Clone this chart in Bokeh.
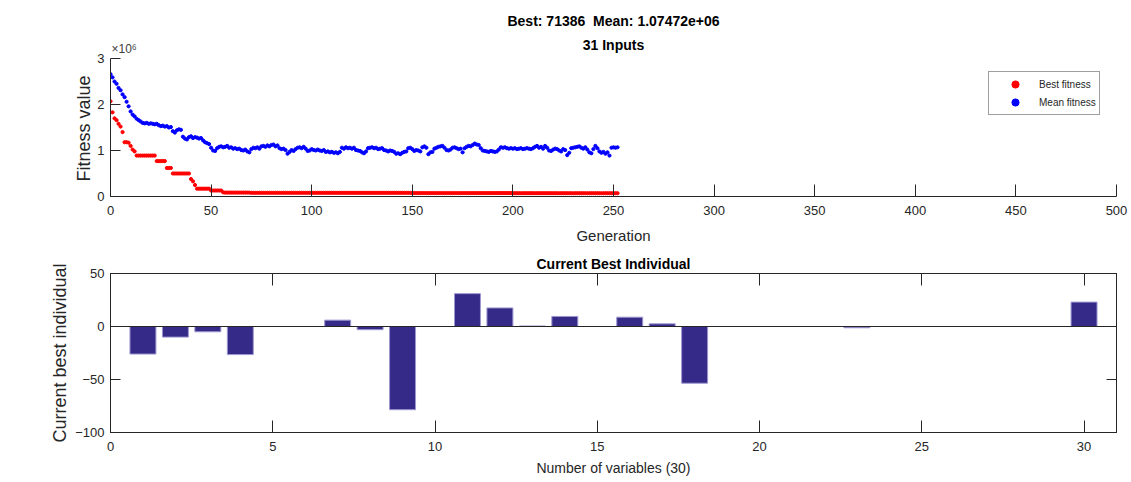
from bokeh.plotting import figure
from bokeh.layouts import column
from bokeh.models import Range1d, FixedTicker, LinearAxis, Span, Label, Title
from bokeh.embed import file_html
from bokeh.resources import INLINE

# ---------------- data ----------------
generation = list(range(0, 253))

# Mean fitness per generation (x 10^6)
mean_fitness = [
    2.66, 2.59, 2.50, 2.45, 2.36, 2.31, 2.22, 2.16, 2.06, 1.96,
    1.85, 1.78, 1.74, 1.69, 1.66, 1.63, 1.60, 1.59, 1.60, 1.58,
    1.59, 1.58, 1.57, 1.58, 1.55, 1.53, 1.54, 1.52, 1.53, 1.50,
    1.51, 1.42, 1.39, 1.44, 1.46, 1.45, 1.30, 1.26, 1.24, 1.29,
    1.31, 1.27, 1.29, 1.28, 1.26, 1.27, 1.22, 1.18, 1.16, 1.14,
    1.06, 1.00, 0.99, 1.05, 1.08, 1.09, 1.07, 1.08, 1.10, 1.06,
    1.07, 1.04, 1.05, 1.03, 1.04, 1.01, 1.00, 1.02, 0.98, 0.96,
    1.03, 1.06, 1.05, 1.07, 1.04, 1.09, 1.10, 1.08, 1.11, 1.09,
    1.12, 1.13, 1.09, 1.11, 1.05, 1.03, 1.04, 1.01, 0.93, 0.97,
    1.01, 0.99, 1.03, 1.06, 1.07, 1.05, 1.08, 1.04, 0.99, 1.00,
    1.03, 1.01, 1.00, 1.02, 1.00, 0.99, 1.01, 0.97, 0.98, 0.96,
    0.97, 0.95, 0.96, 0.94, 0.97, 1.06, 1.04, 1.07, 1.05, 1.06,
    1.04, 1.06, 1.01, 1.00, 0.99, 0.96, 0.94, 0.98, 1.05, 1.06,
    1.07, 1.05, 1.06, 1.03, 1.04, 1.05, 1.01, 1.00, 0.98, 1.00,
    0.99, 0.97, 0.93, 0.94, 0.92, 0.95, 0.97, 0.98, 1.05, 1.06,
    1.03, 0.99, 1.01, 1.00, 0.98, 1.07, 1.09, 1.06, 0.92, 0.96,
    0.97, 1.04, 1.06, 1.08, 1.09, 1.10, 1.06, 1.01, 1.00, 1.02,
    1.06, 1.07, 1.05, 1.03, 1.04, 0.96, 1.05, 1.08, 1.10, 1.09,
    1.12, 1.15, 1.13, 1.12, 1.05, 1.00, 0.99, 0.98, 0.97, 0.99,
    0.98, 0.97, 0.98, 1.02, 1.07, 1.06, 1.07, 1.05, 1.04, 1.05,
    1.04, 1.05, 1.03, 1.04, 1.05, 1.03, 1.04, 1.05, 1.04, 1.03,
    1.05, 1.08, 1.10, 1.06, 1.08, 1.04, 1.10, 1.06, 1.00, 0.99,
    1.02, 1.04, 1.03, 1.00, 0.98, 1.03, 1.01, 0.90, 0.95, 1.05,
    1.06, 1.07, 1.08, 1.09, 1.06, 1.04, 1.07, 1.02, 0.96, 0.94,
    1.03, 1.10, 1.05, 0.98, 0.95, 0.97, 0.93, 0.96, 0.89, 1.06,
    1.07, 1.06, 1.07,
]

# Best fitness per generation (x 10^6)
best_fitness = [
    2.07, 1.83, 1.70, 1.66, 1.58, 1.52, 1.40, 1.18, 1.18, 1.17,
    1.10, 1.02, 0.98, 0.89, 0.89, 0.89, 0.89, 0.89, 0.89, 0.89,
    0.89, 0.89, 0.89, 0.77, 0.77, 0.77, 0.77, 0.77, 0.62, 0.62,
    0.62, 0.50, 0.50, 0.50, 0.50, 0.50, 0.50, 0.50, 0.50, 0.50,
    0.38, 0.33, 0.25, 0.17, 0.17, 0.17, 0.17, 0.17, 0.17, 0.17,
    0.13, 0.13, 0.13, 0.13, 0.13, 0.13, 0.09, 0.085, 0.085, 0.085,
    0.085, 0.085, 0.085, 0.085, 0.085, 0.085, 0.085, 0.085, 0.085, 0.085,
    0.08, 0.08, 0.08, 0.08, 0.08, 0.08, 0.08, 0.08, 0.08, 0.08,
    0.08, 0.08, 0.08, 0.08, 0.08, 0.08, 0.08, 0.08, 0.08, 0.08,
    0.08, 0.08, 0.08, 0.08, 0.08, 0.08, 0.08, 0.08, 0.08, 0.08,
    0.08, 0.08, 0.08, 0.08, 0.08, 0.08, 0.08, 0.08, 0.08, 0.08,
    0.08, 0.08, 0.08, 0.08, 0.08, 0.08, 0.08, 0.08, 0.08, 0.08,
    0.08, 0.08, 0.08, 0.08, 0.08, 0.08, 0.08, 0.08, 0.08, 0.08,
    0.08, 0.08, 0.08, 0.08, 0.08, 0.08, 0.08, 0.08, 0.08, 0.08,
    0.08, 0.08, 0.08, 0.08, 0.08, 0.08, 0.08, 0.08, 0.08, 0.08,
    0.075, 0.075, 0.075, 0.075, 0.075, 0.075, 0.075, 0.075, 0.075, 0.075,
    0.075, 0.075, 0.075, 0.075, 0.075, 0.075, 0.075, 0.075, 0.075, 0.075,
    0.075, 0.075, 0.075, 0.075, 0.075, 0.075, 0.075, 0.075, 0.075, 0.075,
    0.075, 0.075, 0.075, 0.075, 0.075, 0.075, 0.075, 0.075, 0.075, 0.075,
    0.075, 0.075, 0.075, 0.075, 0.075, 0.075, 0.075, 0.075, 0.075, 0.075,
    0.0714, 0.0714, 0.0714, 0.0714, 0.0714, 0.0714, 0.0714, 0.0714, 0.0714, 0.0714,
    0.0714, 0.0714, 0.0714, 0.0714, 0.0714, 0.0714, 0.0714, 0.0714, 0.0714, 0.0714,
    0.0714, 0.0714, 0.0714, 0.0714, 0.0714, 0.0714, 0.0714, 0.0714, 0.0714, 0.0714,
    0.0714, 0.0714, 0.0714, 0.0714, 0.0714, 0.0714, 0.0714, 0.0714, 0.0714, 0.0714,
    0.0714, 0.0714, 0.0714, 0.0714, 0.0714, 0.0714, 0.0714, 0.0714, 0.0714, 0.0714,
    0.0714, 0.0714, 0.0714,
]

top_x_ticks = [0, 50, 100, 150, 200, 250, 300, 350, 400, 450, 500]
top_y_ticks = [0, 1, 2, 3]

variables = list(range(1, 31))
best_individual = [
    -26, -10, -5, -26.5, 0, 0, 6, -3, -78.5, 0,
    31, 17.5, 0.5, 9.5, 0, 8.8, 2.5, -53.5, 0, 0,
    0, 0, -1.2, 0, 0, 0, 0, 0, 0, 23,
]
bot_x_ticks = [0, 5, 10, 15, 20, 25, 30]
bot_y_ticks = [-100, -50, 0, 50]

title_main = "Best: 71386\u00a0 Mean: 1.07472e+06"
title_sub = "31 Inputs"
title_bottom = "Current Best Individual"
exponent_text = "\u00d710\u2076"
# trailing no-break spaces keep the rotated label centred on the 0..3 part of the axis
top_y_label = "Fitness value" + "\u00a0" * 10

# ---------------- style ----------------
FONT = "Liberation Sans"
AX = "#262626"


def style_axis(ax, tick_in, label_size="13px"):
    ax.axis_line_color = AX
    ax.major_tick_line_color = AX
    ax.major_tick_in = tick_in
    ax.major_tick_out = 0
    ax.minor_tick_line_color = None
    ax.major_label_text_font = FONT
    ax.major_label_text_font_size = label_size
    ax.major_label_text_color = AX
    ax.axis_label_text_font = FONT
    ax.axis_label_text_font_style = "normal"
    ax.axis_label_text_color = AX


def frame_label(x, y, text, y_offset, size, bold=True, align="center", baseline="middle",
                color="#000000", x_offset=0):
    return Label(x=x, y=y, text=text, text_font=FONT, text_font_size=size,
                 text_font_style="bold" if bold else "normal", text_align=align,
                 text_baseline=baseline, y_offset=y_offset, x_offset=x_offset,
                 text_color=color)


# ---------------- top chart ----------------
# the frame reaches up near the top of the figure so the titles and the exponent sit
# inside it; the y axis line itself stops at 3
top = figure(width=1131, height=250, x_range=Range1d(0, 500), y_range=Range1d(0, 4.0435),
             title=None, output_backend="svg", toolbar_location=None,
             min_border_left=110, min_border_right=15, min_border_top=10, min_border_bottom=54)
top.outline_line_color = None
top.xgrid.visible = False
top.ygrid.visible = False
top.background_fill_color = "white"
top.border_fill_color = "white"

top.scatter(generation, best_fitness, marker="circle", size=3.2, color="#ff0000",
            legend_label="Best fitness")
top.scatter(generation, mean_fitness, marker="circle", size=3.2, color="#0000ff",
            legend_label="Mean fitness")

top.xaxis.ticker = FixedTicker(ticks=top_x_ticks)
top.yaxis.ticker = FixedTicker(ticks=top_y_ticks)
top.yaxis.bounds = (0, 3)
style_axis(top.xaxis[0], 12)
style_axis(top.yaxis[0], 10)
top.xaxis.axis_label = "Generation"
top.xaxis.axis_label_text_font_size = "15px"
top.xaxis.major_label_standoff = 9
top.xaxis.axis_label_standoff = 9
top.yaxis.axis_label = top_y_label
top.yaxis.axis_label_text_font_size = "18px"
top.yaxis.major_label_standoff = 6
top.yaxis.axis_label_standoff = 0

top.legend.location = (878, 81)
top.legend.border_line_color = "#404040"
top.legend.border_line_width = 1
top.legend.padding = 3
top.legend.margin = 0
top.legend.spacing = 0
top.legend.glyph_width = 46
top.legend.glyph_height = 18
top.legend.label_height = 18
top.legend.label_standoff = 1
top.legend.label_text_font = FONT
top.legend.label_text_font_size = "10px"
top.legend.label_text_color = AX
top.legend.background_fill_alpha = 1

top.add_layout(frame_label(250, 3, title_main, 38, "14px"))
top.add_layout(frame_label(250, 3, title_sub, 14, "14px"))
top.add_layout(frame_label(0, 3, exponent_text, 3, "12px", bold=False, align="left",
                           baseline="bottom", color="#404040", x_offset=1))

# ---------------- bottom chart ----------------
bot = figure(width=1131, height=232, x_range=Range1d(0, 31), y_range=Range1d(-100, 50),
             title=None, output_backend="svg", toolbar_location=None,
             min_border_left=110, min_border_right=15, min_border_top=23, min_border_bottom=50)
bot.outline_line_color = AX
bot.xgrid.visible = False
bot.ygrid.visible = False
bot.background_fill_color = "white"
bot.border_fill_color = "white"

bot.vbar(x=variables, top=best_individual, bottom=0, width=0.8,
         fill_color="#352a87", line_color="#9d97d0", line_width=1)
bot.add_layout(Span(location=0, dimension="width", line_color=AX, line_width=1))

bot.xaxis.ticker = FixedTicker(ticks=bot_x_ticks)
bot.yaxis.ticker = FixedTicker(ticks=bot_y_ticks)
style_axis(bot.xaxis[0], 12)
style_axis(bot.yaxis[0], 10)
bot.xaxis.axis_label = "Number of variables (30)"
bot.xaxis.axis_label_text_font_size = "14px"
bot.xaxis.major_label_standoff = 9
bot.xaxis.axis_label_standoff = 6
bot.yaxis.axis_label = "Current best individual"
bot.yaxis.axis_label_text_font_size = "18px"
bot.yaxis.major_label_standoff = 6
bot.yaxis.axis_label_standoff = 2

top_axis = LinearAxis(ticker=FixedTicker(ticks=bot_x_ticks),
                      major_label_overrides={t: "" for t in bot_x_ticks})
style_axis(top_axis, 12)
top_axis.major_label_standoff = 0
bot.add_layout(top_axis, "above")
right_axis = LinearAxis(ticker=FixedTicker(ticks=bot_y_ticks),
                        major_label_overrides={t: "" for t in bot_y_ticks})
style_axis(right_axis, 10)
right_axis.major_label_standoff = 0
bot.add_layout(right_axis, "right")

bot.add_layout(Title(text=title_bottom, align="center", text_font=FONT, text_font_size="14px",
                     text_font_style="bold", text_color="#000000", standoff=4), "above")

layout = column(top, bot)
open("out.html", "w").write(file_html(layout, INLINE))
